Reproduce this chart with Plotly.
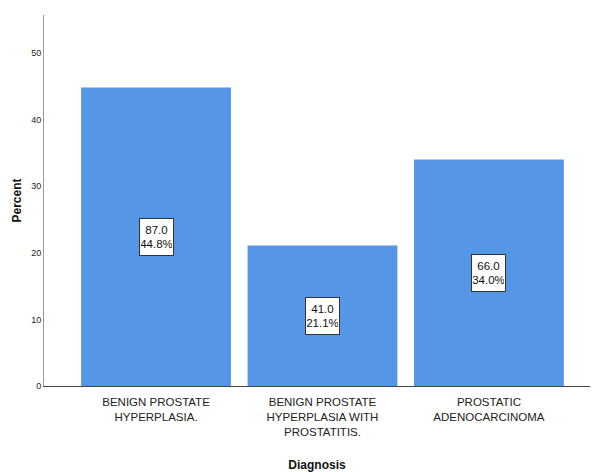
import plotly.graph_objects as go

categories = ["BENIGN PROSTATE<br>HYPERPLASIA.", "BENIGN PROSTATE<br>HYPERPLASIA WITH<br>PROSTATITIS.", "PROSTATIC<br>ADENOCARCINOMA"]
counts = [87.0, 41.0, 66.0]
percents = [44.8, 21.1, 34.0]
y_ticks = [0, 10, 20, 30, 40, 50]

FONT = "Liberation Sans Narrow, Arial Narrow, Liberation Sans, Arial"

fig = go.Figure()
fig.add_trace(go.Bar(
    x=list(range(len(categories))), y=percents, width=0.9,
    marker=dict(color="#5596E6", line=dict(width=0)),
    hoverinfo="skip",
))

for i, (c, p) in enumerate(zip(counts, percents)):
    fig.add_annotation(
        x=i, y=p / 2, xref="x", yref="y",
        text=f"{c:.1f}<br>{p:.1f}%", showarrow=False,
        font=dict(family=FONT, size=11.5, color="#111"),
        width=31, height=34,
        bgcolor="white", bordercolor="#333", borderwidth=1, borderpad=1,
    )

fig.update_layout(
    width=592, height=472,
    margin=dict(l=44, r=2, t=15, b=86),
    paper_bgcolor="white", plot_bgcolor="white",
    showlegend=False,
    font=dict(family=FONT, color="#222"),
    xaxis=dict(
        range=[-0.673, 2.607], tickmode="array",
        tickvals=list(range(len(categories))), ticktext=categories,
        showgrid=False, zeroline=False, showline=True, linecolor="#444", linewidth=1,
        ticks="", ticklabelstandoff=5, tickfont=dict(family=FONT, size=11.5, color="#222"),
        title=dict(text="<b>Diagnosis</b>", font=dict(family="Liberation Sans, Arial", size=12, color="#111"), standoff=24),
        automargin=False,
    ),
    yaxis=dict(
        range=[0, 55.7], tickmode="array", tickvals=y_ticks,
        showgrid=False, zeroline=False, showline=True, linecolor="#999", linewidth=1,
        ticks="", tickfont=dict(family=FONT, size=9, color="#222"),
        title=dict(text="<b>Percent</b>", font=dict(family="Liberation Sans, Arial", size=12, color="#111"), standoff=6),
        automargin=False,
    ),
)

fig.write_html("out.html", config={"displayModeBar": False},
               post_script="document.body.style.margin='0';document.body.style.overflow='hidden';")
